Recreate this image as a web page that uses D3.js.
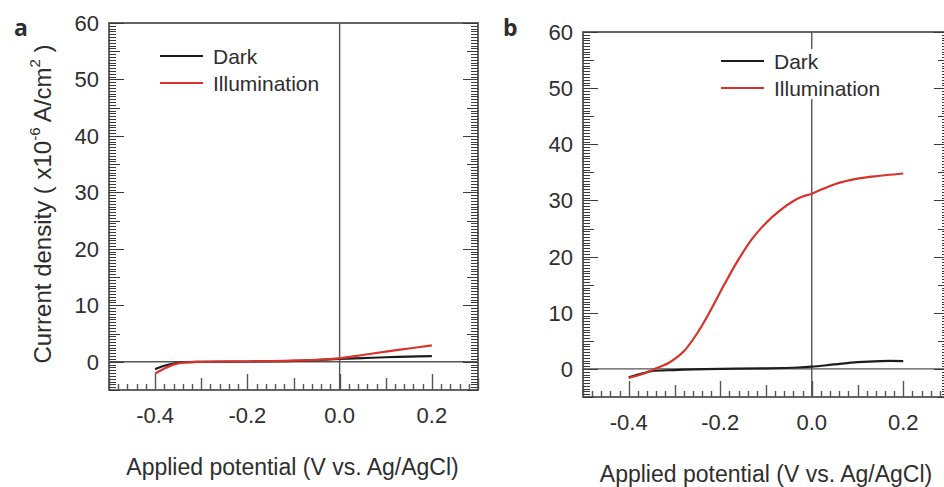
<!DOCTYPE html>
<html>
<head>
<meta charset="utf-8">
<script src="https://cdn.jsdelivr.net/npm/d3@7"></script>
<style>
    body { margin: 0; background: #fff; }
    svg { display: block; }
    text { font-family: "Liberation Sans", Arial, Helvetica, sans-serif; fill: #2e2e2e; }
</style>
</head>
<body>
<svg width="944" height="487"></svg>
<script>
// panel a readings (potential V, current density x1e-6 A/cm2)
var aDark = [[-0.4, -1.3], [-0.38, -0.7], [-0.36, -0.3], [-0.34, -0.1], [-0.3, 0], [-0.2, 0.05],
    [-0.1, 0.15], [-0.05, 0.3], [0, 0.5], [0.05, 0.65], [0.1, 0.8], [0.15, 0.9], [0.2, 1.0]];
var aLight = [[-0.4, -2.1], [-0.38, -1.2], [-0.36, -0.5], [-0.34, -0.15], [-0.3, 0], [-0.2, 0.05],
    [-0.1, 0.2], [-0.05, 0.35], [0, 0.6], [0.05, 1.2], [0.1, 1.8], [0.15, 2.35], [0.2, 2.9]];

// panel b readings
var bDark = [[-0.4, -1.5], [-0.37, -0.8], [-0.35, -0.4], [-0.3, -0.2], [-0.2, 0], [-0.1, 0.1],
    [-0.03, 0.25], [0, 0.4], [0.05, 0.8], [0.1, 1.2], [0.15, 1.4], [0.2, 1.4]];
var bLight = [[-0.4, -1.6], [-0.37, -0.9], [-0.34, 0.1], [-0.31, 1.2], [-0.28, 3.1], [-0.25, 6.4],
    [-0.22, 10.6], [-0.19, 15.2], [-0.16, 19.5], [-0.13, 23.2], [-0.1, 26.0], [-0.07, 28.2],
    [-0.04, 29.9], [-0.02, 30.7], [0, 31.2], [0.05, 32.9], [0.1, 33.9], [0.15, 34.4], [0.2, 34.8]];

var xTicks = [-0.4, -0.2, 0.0, 0.2];
var yTicks = [0, 10, 20, 30, 40, 50, 60];
var seriesNames = ["Dark", "Illumination"];
var seriesColors = ["#1c1c1c", "#d8322a"];

var svg = d3.select("svg");

function drawPanel(p) {
    var x = d3.scaleLinear().domain([-0.5, 0.3]).range([p.left, p.right]);
    var y = d3.scaleLinear().domain([-5, 60]).range([p.bottom, p.top]);
    var g = svg.append("g");
    var axisColor = "#555";

    // frame
    g.append("rect")
        .attr("x", p.left).attr("y", p.top)
        .attr("width", p.right - p.left).attr("height", p.bottom - p.top)
        .attr("fill", "none").attr("stroke", axisColor).attr("stroke-width", 1.8);

    // zero lines
    g.append("line")
        .attr("x1", x(0)).attr("x2", x(0)).attr("y1", p.top).attr("y2", p.bottom)
        .attr("stroke", axisColor).attr("stroke-width", 1.4);
    g.append("line")
        .attr("x1", p.left).attr("x2", p.right).attr("y1", y(0)).attr("y2", y(0))
        .attr("stroke", axisColor).attr("stroke-width", 1.4);

    // bottom ticks, inward
    var xMinor = d3.range(-25, 16).map(function(i) { return i * 0.02; });
    g.selectAll(".xt").data(xMinor).enter().append("line")
        .attr("x1", function(d) { return Math.round(x(d)) + 0.5; })
        .attr("x2", function(d) { return Math.round(x(d)) + 0.5; })
        .attr("y1", p.bottom)
        .attr("y2", function(d, i) {
            var k = i - 25;
            if (k % 10 == 0) return p.bottom - 16;
            if (k % 5 == 0) return p.bottom - 12;
            return p.bottom - 6;
        })
        .attr("stroke", axisColor).attr("stroke-width", 1.4);

    // left and right ticks, inward: a comb of short ticks every 0.5
    var yMinor = d3.range(-10, 121).map(function(i) { return i * 0.5; });
    [[p.left, 1], [p.right, -1]].forEach(function(side) {
        var path = d3.path();
        yMinor.forEach(function(d, i) {
            var k = i - 10;
            var len = k % 20 == 0 ? 15 : (k % 10 == 0 ? 11 : 7);
            var yy = Math.round(y(d)) + 0.5;
            path.moveTo(side[0], yy);
            path.lineTo(side[0] + side[1] * len, yy);
        });
        g.append("path")
            .attr("d", path.toString())
            .attr("fill", "none")
            .attr("stroke", "#3a3a3a").attr("stroke-width", 1.1);
    });

    // tick labels
    g.selectAll(".xl").data(xTicks).enter().append("text")
        .attr("x", function(d) { return x(d); })
        .attr("y", p.bottom + 33)
        .attr("text-anchor", "middle")
        .attr("font-size", 22)
        .text(function(d) { return d3.format(".1f")(d).replace("−", "-"); });
    g.selectAll(".yl").data(yTicks).enter().append("text")
        .attr("x", p.left - 10)
        .attr("y", function(d) { return y(d); })
        .attr("dy", "0.36em")
        .attr("text-anchor", "end")
        .attr("font-size", 22)
        .text(function(d) { return d; });

    // curves
    var line = d3.line()
        .x(function(d) { return x(d[0]); })
        .y(function(d) { return y(d[1]); })
        .curve(d3.curveCatmullRom.alpha(0.5));
    [p.dark, p.light].forEach(function(s, i) {
        g.append("path")
            .datum(s)
            .attr("fill", "none")
            .attr("stroke", seriesColors[i])
            .attr("stroke-width", 2.2)
            .attr("d", line);
    });

    // legend
    if (p.legendBox) {
        g.append("rect")
            .attr("x", p.legendX - 6).attr("y", p.legendY - 12)
            .attr("width", 175).attr("height", 50)
            .attr("fill", "#fff");
    }
    seriesNames.forEach(function(n, i) {
        var ly = p.legendY + i * 27;
        g.append("line")
            .attr("x1", p.legendX).attr("x2", p.legendX + 43)
            .attr("y1", ly).attr("y2", ly)
            .attr("stroke", seriesColors[i]).attr("stroke-width", 2.2);
        g.append("text")
            .attr("x", p.legendX + 53).attr("y", ly)
            .attr("dy", "0.36em")
            .attr("font-size", 21)
            .text(n);
    });

    // x title
    g.append("text")
        .attr("x", (p.left + p.right) / 2 - 1 + p.titleShift)
        .attr("y", p.titleY)
        .attr("text-anchor", "middle")
        .attr("font-size", 23)
        .text("Applied potential (V vs. Ag/AgCl)");

    // panel letter
    g.append("text")
        .attr("x", p.letterX).attr("y", 36)
        .attr("font-size", 23)
        .attr("font-weight", "bold")
        .style("font-family", "'Open Sans', sans-serif")
        .text(p.letter);
}

drawPanel({ left: 109, right: 478, top: 23, bottom: 390, dark: aDark, light: aLight,
    legendX: 160, legendY: 56, legendBox: false, titleY: 475, titleShift: 0, letter: "a", letterX: 14 });
drawPanel({ left: 583, right: 949, top: 32, bottom: 397, dark: bDark, light: bLight,
    legendX: 721, legendY: 61, legendBox: true, titleY: 482, titleShift: 1, letter: "b", letterX: 503 });

// y axis title for panel a
var yt = svg.append("text")
    .attr("transform", "translate(51,204) rotate(-90)")
    .attr("text-anchor", "middle")
    .attr("font-size", 24);
yt.append("tspan").text("Current density ( x10");
yt.append("tspan").attr("font-size", 15).attr("dy", -11).text("-6");
yt.append("tspan").attr("dy", 11).text(" A/cm");
yt.append("tspan").attr("font-size", 15).attr("dy", -11).text("2");
yt.append("tspan").attr("dy", 11).text(" )");
</script>
</body>
</html>
